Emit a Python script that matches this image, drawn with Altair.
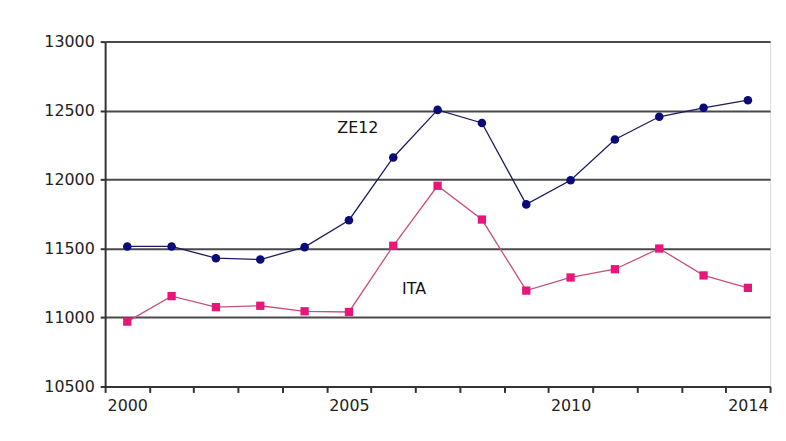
import altair as alt
import pandas as pd

years = list(range(2000, 2015))
ze12 = [11515, 11515, 11430, 11420, 11510, 11705, 12160, 12505, 12410, 11820, 11995, 12290, 12455, 12520, 12575]
ita = [10970, 11155, 11075, 11085, 11045, 11040, 11520, 11955, 11710, 11195, 11290, 11350, 11500, 11305, 11215]
shown_years = ["2000", "2005", "2010", "2014"]
series_labels = ["ZE12", "ITA"]
label_years = ["2005", "2006"]
label_values = [12370, 11205]

df = pd.DataFrame({
    "year": [str(y) for y in years] * 2,
    "value": ze12 + ita,
    "series": ["ZE12"] * len(years) + ["ITA"] * len(years),
})
lab = pd.DataFrame({"year": label_years, "value": label_values, "series": series_labels})

x = alt.X("year:O", sort=[str(y) for y in years], scale=alt.Scale(paddingInner=0, paddingOuter=0),
          axis=alt.Axis(title=None, labelAngle=0, tickBand="extent", grid=False,
                        labelExpr="indexof(%s, datum.label) >= 0 ? datum.label : ''" % str(shown_years),
                        labelFont="DejaVu Sans", labelFontSize=16, labelColor="#222",
                        domainColor="#333", domainWidth=2, tickColor="#333", tickWidth=2, tickSize=6,
                        labelPadding=5))
y = alt.Y("value:Q", scale=alt.Scale(domain=[10500, 13000], nice=False, zero=False),
          axis=alt.Axis(title=None, values=list(range(10500, 13001, 500)), format="d", grid=True,
                        gridColor="#4a4a4a", gridWidth=2, domainColor="#333", domainWidth=2,
                        tickColor="#333", tickWidth=2, tickSize=5, labelFont="DejaVu Sans",
                        labelFontSize=16, labelColor="#222", labelPadding=6))

color = alt.Color("series:N", scale=alt.Scale(domain=["ZE12", "ITA"], range=["#1c1c5c", "#c8507a"]), legend=None)

lines = alt.Chart(df).mark_line(strokeWidth=1.3).encode(x=x, y=y, color=color, detail="series:N")
pts_ze = alt.Chart(df[df.series == "ZE12"]).mark_point(shape="circle", filled=True, size=75, opacity=1,
                                                        color="#0a0a78").encode(x=x, y=y)
pts_it = alt.Chart(df[df.series == "ITA"]).mark_point(shape="square", filled=True, size=70, opacity=1,
                                                       color="#e8157a").encode(x=x, y=y)
texts_ze = alt.Chart(lab[lab.series == "ZE12"]).mark_text(font="DejaVu Sans", fontSize=16, color="#111", dx=9).encode(
    x=x, y=y, text="series:N")
texts_it = alt.Chart(lab[lab.series == "ITA"]).mark_text(font="DejaVu Sans", fontSize=16, color="#111", dx=21).encode(
    x=x, y=y, text="series:N")

chart = alt.layer(lines, pts_ze, pts_it, texts_ze, texts_it).properties(
    width=671, height=348,
    autosize=alt.AutoSizeParams(type="none"),
    padding={"left": 98, "top": 32, "right": 8, "bottom": 40},
).configure_view(stroke=None).configure(background="white")

chart.save("out.html", embed_options={"renderer": "svg", "actions": False})
